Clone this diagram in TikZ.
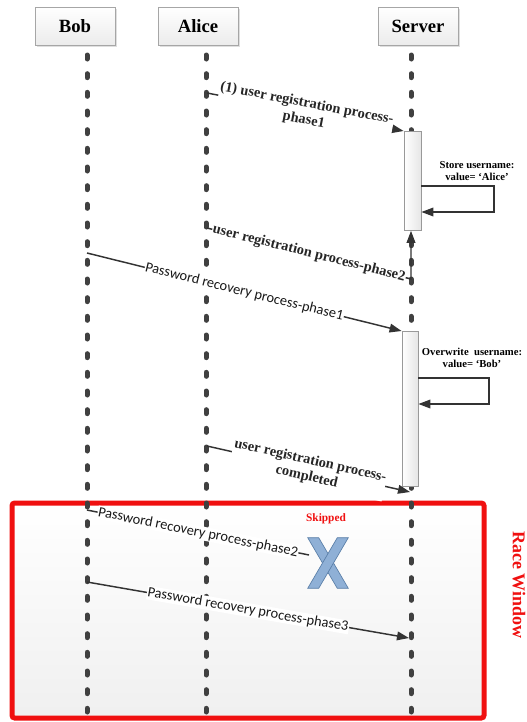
\documentclass[tikz,border=0pt]{standalone}
\usepackage{fontspec}
\setmainfont{Liberation Serif}
\newfontfamily\msgfont{Carlito}
\usetikzlibrary{arrows.meta, shadows}
\definecolor{lifegray}{HTML}{404040}
\definecolor{arrowgray}{HTML}{333333}
\definecolor{crossblue}{HTML}{8FB0D6}
\definecolor{crossedge}{HTML}{5A7FA8}
\definecolor{racered}{HTML}{F01010}

\tikzset{
  headbox/.style={draw=gray!70, top color=white, bottom color=gray!15,
    drop shadow={opacity=0.25, shadow xshift=1.5pt, shadow yshift=-1.5pt},
    minimum width=60pt, minimum height=28.5pt, font=\bfseries\fontsize{14}{16}\selectfont},
  lifeline/.style={lifegray, line width=3.75pt, line cap=round, dash pattern=on 3pt off 11pt},
  actbox/.style={draw=gray!80, left color=white, right color=gray!20, line width=0.6pt, inner sep=0pt},
  msg/.style={arrowgray, line width=1.1pt, -{Triangle[length=9pt,width=6.5pt]}},
  regtext/.style={sloped, fill=white, inner sep=0.5pt, align=center, text=black!85,
    font=\bfseries\fontsize{10.8}{12.5}\selectfont},
  pwtext/.style={sloped, fill=white, inner sep=0.5pt, text=black!90, font=\msgfont\fontsize{10.8}{12}\selectfont},
  notetext/.style={align=center, font=\bfseries\fontsize{8}{9.5}\selectfont},
  racebox/.style={draw=racered, line width=3.75pt, rounded corners=2pt, top color=white, bottom color=gray!12},
  crossx/.style={fill=crossblue, draw=crossedge, line width=0.5pt},
}

\begin{document}
\begin{tikzpicture}[x=0.75pt, y=-0.75pt]
    \useasboundingbox (0,0) rectangle (526,722);
    % race window
    \draw[racebox] (12,503) rectangle (484,718);
    \node[racered, rotate=-90, font=\bfseries\fontsize{13.5}{15}\selectfont] (race) at (519,585) {Race Window};
    % actors and lifelines
    \node[headbox] (bob) at (75,26) {Bob};
    \node[headbox] (alice) at (198,26) {Alice};
    \node[headbox] (server) at (418,26) {Server};
    \coordinate (bobtop) at (87,55);
    \coordinate (alicetop) at (206,55);
    \coordinate (servertop) at (411,55);
    \draw[lifeline] (bobtop) -- (87,712);
    \draw[lifeline] (alicetop) -- (206,712);
    \draw[lifeline] (servertop) -- (411,712);
    % activations
    \node[actbox, anchor=north, minimum width=12.75pt, minimum height=74.25pt] (act1) at (412.5,131) {};
    \node[actbox, anchor=north, minimum width=12pt, minimum height=116.25pt] (act2) at (410,331) {};
    % registration phase 1
    \coordinate (r1s) at (207,93);
    \draw[msg] (r1s) -- node[regtext, midway] {(1) user registration process-\\phase1} (act1.north west);
    % store username
    \node[notetext] (store) at (477,171) {Store username:\\value= ‘Alice’};
    \coordinate (s1a) at (494,186);
    \coordinate (s1b) at (494,212);
    \draw[msg] (s1a -| act1.east) -- (s1a) -- (s1b) -- (s1b -| act1.east);
    % registration phase 2
    \coordinate (r2s) at (207,228);
    \coordinate (r2e) at (411,279);
    \draw[msg] (r2s) -- node[regtext, pos=0.5] {user registration process-phase2} (r2e) -- (r2e |- act1.south);
    % password phase 1
    \coordinate (p1s) at (87,253);
    \draw[msg] (p1s) -- node[pwtext, midway] {Password recovery process-phase1} (act2.north west);
    % overwrite username
    \node[notetext] (over) at (472,358) {Overwrite~ username:\\value= ‘Bob’};
    \coordinate (s2a) at (489,378);
    \coordinate (s2b) at (489,404);
    \draw[msg] (s2a -| act2.east) -- (s2a) -- (s2b) -- (s2b -| act2.east);
    % registration completed
    \coordinate (r3s) at (207,446);
    \coordinate (r3e) at (410,492);
    \draw[msg] (r3s) -- node[regtext, midway] {user registration process-\\completed} (r3e);
    % skipped phase 2
    \node[racered, font=\bfseries\fontsize{8.5}{10}\selectfont] (skiplbl) at (326,519) {Skipped};
    \node[minimum width=30pt, minimum height=37.5pt, inner sep=0pt] (skip) at (328,563) {};
    \filldraw[crossx] (skip.north west) -- ++(11,0) -- (skip.south east) -- ++(-11,0) -- cycle;
    \filldraw[crossx] (skip.north east) -- ++(-11,0) -- (skip.south west) -- ++(11,0) -- cycle;
    \coordinate (p2s) at (87,510);
    \coordinate (p2e) at (309,555);
    \draw[arrowgray, line width=1.1pt] (p2s) -- node[pwtext, midway] {Password recovery process-phase2} (p2e);
    % password phase 3
    \coordinate (p3s) at (87,582);
    \coordinate (p3e) at (409,638);
    \draw[msg] (p3s) -- node[pwtext, midway] {Password recovery process-phase3} (p3e);
\end{tikzpicture}
\end{document}
